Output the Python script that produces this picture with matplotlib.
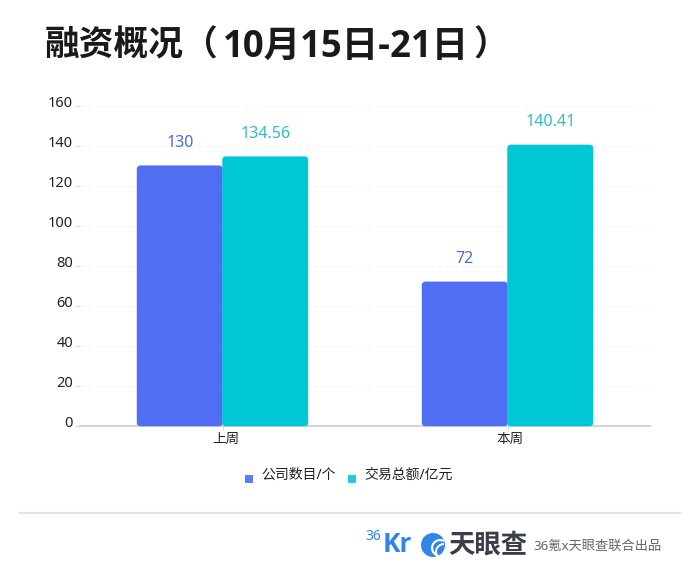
import matplotlib
matplotlib.use("Agg")
import matplotlib.pyplot as plt
from matplotlib.patches import FancyBboxPatch, Circle, Wedge, Rectangle
from matplotlib.transforms import ScaledTranslation
import numpy as np

plt.rcParams['font.family'] = ['Noto Sans', 'Noto Sans CJK SC', 'DejaVu Sans']
BOLD_FAM = ['Open Sans', 'Noto Sans CJK SC', 'DejaVu Sans']

# === DATOS ===
categories = ["上周", "本周"]
companies = [130, 72]
amounts = [134.56, 140.41]
company_labels = ["130", "72"]
amount_labels = ["134.56", "140.41"]
yticks = [0, 20, 40, 60, 80, 100, 120, 140, 160]
legend_names = ["公司数目/个", "交易总额/亿元"]

BLUE = "#4f6ef2"
TEAL = "#00c7d6"
W, H = 700, 576

fig = plt.figure(figsize=(7, 5.76), dpi=100, facecolor="white")
# ejes en pixeles: izq 80, der 650, arriba 105.7, abajo 426
ax = fig.add_axes([80/W, 1-426/H, 570/W, (426-105.7)/H])
ax.set_xlim(-0.5, 1.5)
ax.set_ylim(0, 160)

x = np.arange(len(categories))
bw = 0.3

def rounded_bars(xs, vals, color):
    # barras con esquinas redondeadas (3.5 px)
    bars = ax.bar(xs, vals, bw, color=color, alpha=0)
    for b in bars:
        r = 3.5/285
        asp = (3.5/2.0)/r
        ax.add_patch(FancyBboxPatch((b.get_x(), b.get_y()), b.get_width(), b.get_height(),
                                    boxstyle=f"round,pad=0,rounding_size={r}",
                                    mutation_aspect=asp, fc=color, ec=color, lw=0.3, zorder=3,
                                    clip_on=False))

rounded_bars(x - bw/2, companies, BLUE)
rounded_bars(x + bw/2, amounts, TEAL)

for xi, v, s in zip(x - bw/2, companies, company_labels):
    ax.annotate(s, (xi, v), xytext=(0, 10.5), textcoords="offset points", ha="center", va="bottom",
                fontsize=11.5, color="#4a6bd6")
for xi, v, s in zip(x + bw/2, amounts, amount_labels):
    ax.annotate(s, (xi, v), xytext=(0, 10.5), textcoords="offset points", ha="center", va="bottom",
                fontsize=11.5, color="#2fbcc8")

for s in ["top", "right", "left"]:
    ax.spines[s].set_visible(False)
ax.spines["bottom"].set_color("#d4d4d4")
ax.spines["bottom"].set_linewidth(1.5)
ax.set_yticks(yticks)
ax.set_xticks(x)
ax.set_xticklabels(categories)
ax.tick_params(axis="y", length=3.6, color="#dddddd", width=1, labelsize=10.5, labelcolor="#222222", pad=1.5)
ax.tick_params(axis="x", length=3, color="#e0e0e0", width=0.8, labelsize=9.8, labelcolor="#222222", pad=1)
ax.grid(axis="y", color="#f0f0f0", ls=(0, (4, 4)), lw=0.7, zorder=0)
ax.set_axisbelow(True)
# las etiquetas del eje y van un poco arriba de la linea, las del x un poco a la derecha
up = ScaledTranslation(0, 4.5/100, fig.dpi_scale_trans)
for lb in ax.get_yticklabels():
    lb.set_transform(lb.get_transform() + up)
right = ScaledTranslation(3/100, 0, fig.dpi_scale_trans)
for lb in ax.get_xticklabels():
    lb.set_transform(lb.get_transform() + right)

# capa en pixeles para titulo, leyenda y pie
ov = fig.add_axes([0, 0, 1, 1], facecolor="none")
ov.set_xlim(0, W)
ov.set_ylim(H, 0)
ov.axis("off")

# titulo en tres trozos: el original tiene mas aire alrededor de la fecha
ov.text(45, 47, "融资概况（", fontsize=25, fontweight="bold", color="#1a1a1a",
        ha="left", va="center", family=BOLD_FAM)
ov.text(223, 47, "10月15日-21日", fontsize=26.3, fontweight="bold", color="#1a1a1a",
        ha="left", va="center", family=BOLD_FAM)
ov.text(473, 47, "）", fontsize=25, fontweight="bold", color="#1a1a1a",
        ha="left", va="center", family=BOLD_FAM)

ov.add_patch(Rectangle((245, 475), 8, 8, fc="#5f7cf0", ec="none"))
ov.text(261, 475, legend_names[0], fontsize=10, color="#222222", va="center")
ov.add_patch(Rectangle((348, 475), 8, 8, fc="#22cdd8", ec="none"))
ov.text(364, 475, legend_names[1], fontsize=10, color="#222222", va="center")

ov.plot([20, 680], [513, 513], color="#e2e2e2", lw=1.5)

ov.text(365, 537, "36", fontsize=10, color="#2f86e8", va="center", ha="left")
ov.text(383, 545, "Kr", fontsize=19, fontweight="bold", color="#2f86e8", va="center", ha="left", family=BOLD_FAM)
ov.add_patch(Circle((433, 545), 12, fc="#2f86e8", ec="none"))
ov.add_patch(Wedge((440, 548), 9, 100, 300, width=2.2, fc="white", ec="none"))
ov.add_patch(Wedge((444, 552), 9, 120, 270, width=2, fc="white", ec="none"))
ov.text(448, 545, "天眼查", fontsize=19, fontweight="bold", color="#3a3f47", va="center", ha="left")
ov.text(533, 546, "36氪x天眼查联合出品", fontsize=9.5, color="#666666", va="center", ha="left")

fig.savefig("out.png", dpi=100)
